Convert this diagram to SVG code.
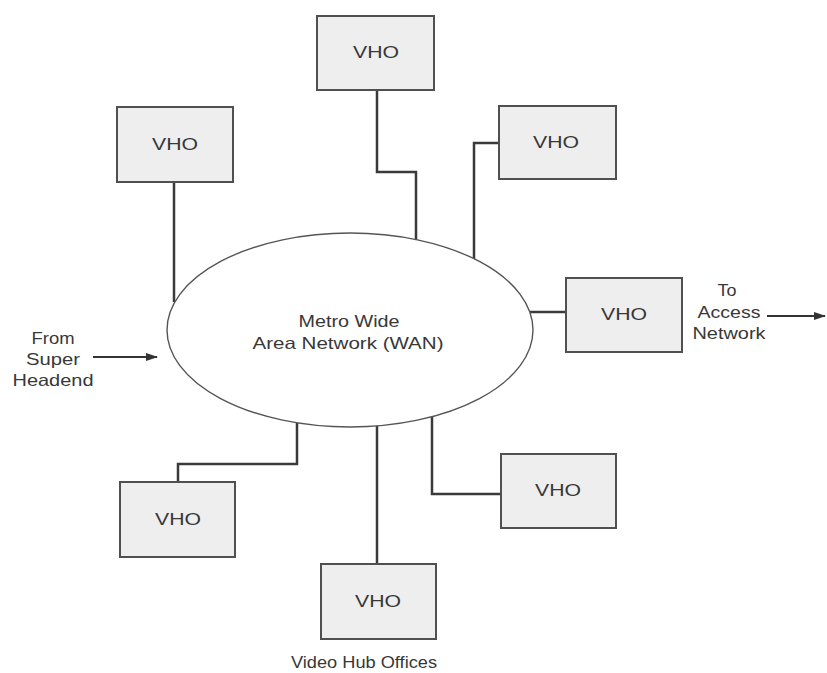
<svg xmlns="http://www.w3.org/2000/svg" width="827" height="673" viewBox="0 0 827 673">
  <style>
    .box { fill: #eeeeee; stroke: #505050; stroke-width: 2; }
    .wan { fill: #ffffff; stroke: #555555; stroke-width: 1.4; }
    .link { fill: none; stroke: #3a3a3a; stroke-width: 2.5; stroke-linejoin: miter; }
    .arrow { fill: none; stroke: #333333; stroke-width: 2.2; }
    text { font-family: "Liberation Sans", Arial, sans-serif; font-size: 16.5px; fill: #383838; text-anchor: middle; }
  </style>
  <defs>
    <marker id="head" markerWidth="12" markerHeight="8" refX="11" refY="4" orient="auto" markerUnits="userSpaceOnUse">
      <path d="M0,0 L12,4 L0,8 Z" fill="#333333"/>
    </marker>
  </defs>
  <rect width="827" height="673" fill="#ffffff"/>

  <!-- connectors between the WAN ring and each hub office -->
  <g id="connectors">
    <polyline class="link" points="377,90 377,172 416,172 416,240"/>
    <polyline class="link" points="174,182 174,302"/>
    <polyline class="link" points="499,143 474,143 474,260"/>
    <polyline class="link" points="530,312 566,312"/>
    <polyline class="link" points="432,417 432,494 501,494"/>
    <polyline class="link" points="377,426 377,564"/>
    <polyline class="link" points="297,423 297,464 178,464 178,482"/>
    <line class="arrow" x1="93" y1="357" x2="157" y2="357" marker-end="url(#head)"/>
    <line class="arrow" x1="767" y1="316" x2="825" y2="316" marker-end="url(#head)"/>
  </g>

  <!-- metro WAN -->
  <g id="wan">
    <ellipse class="wan" cx="350" cy="330" rx="183" ry="97"/>
    <text x="349" y="327" textLength="101" lengthAdjust="spacingAndGlyphs">Metro Wide</text>
    <text x="348" y="349" textLength="191" lengthAdjust="spacingAndGlyphs">Area Network (WAN)</text>
  </g>

  <!-- video hub offices -->
  <g id="vho-top">
    <rect class="box" x="317" y="16" width="117" height="74"/>
    <text x="376" y="58" textLength="46" lengthAdjust="spacingAndGlyphs">VHO</text>
  </g>
  <g id="vho-upper-left">
    <rect class="box" x="117" y="107" width="116" height="75"/>
    <text x="175" y="150" textLength="46" lengthAdjust="spacingAndGlyphs">VHO</text>
  </g>
  <g id="vho-upper-right">
    <rect class="box" x="499" y="106" width="117" height="73"/>
    <text x="556" y="148" textLength="46" lengthAdjust="spacingAndGlyphs">VHO</text>
  </g>
  <g id="vho-right">
    <rect class="box" x="566" y="278" width="116" height="74"/>
    <text x="624" y="320" textLength="46" lengthAdjust="spacingAndGlyphs">VHO</text>
  </g>
  <g id="vho-lower-right">
    <rect class="box" x="501" y="454" width="115" height="74"/>
    <text x="558" y="496" textLength="46" lengthAdjust="spacingAndGlyphs">VHO</text>
  </g>
  <g id="vho-bottom">
    <rect class="box" x="321" y="564" width="115" height="75"/>
    <text x="378" y="607" textLength="46" lengthAdjust="spacingAndGlyphs">VHO</text>
  </g>
  <g id="vho-lower-left">
    <rect class="box" x="120" y="482" width="115" height="75"/>
    <text x="178" y="525" textLength="46" lengthAdjust="spacingAndGlyphs">VHO</text>
  </g>

  <!-- edge labels -->
  <g id="label-source">
    <text x="53" y="344" textLength="43" lengthAdjust="spacingAndGlyphs">From</text>
    <text x="53" y="365" textLength="54" lengthAdjust="spacingAndGlyphs">Super</text>
    <text x="53" y="386" textLength="81" lengthAdjust="spacingAndGlyphs">Headend</text>
  </g>
  <g id="label-access">
    <text x="727" y="296" textLength="19" lengthAdjust="spacingAndGlyphs">To</text>
    <text x="729" y="318" textLength="63" lengthAdjust="spacingAndGlyphs">Access</text>
    <text x="729" y="339" textLength="73" lengthAdjust="spacingAndGlyphs">Network</text>
  </g>
  <g id="label-offices">
    <text x="364" y="668" textLength="146" lengthAdjust="spacingAndGlyphs">Video Hub Offices</text>
  </g>
</svg>
